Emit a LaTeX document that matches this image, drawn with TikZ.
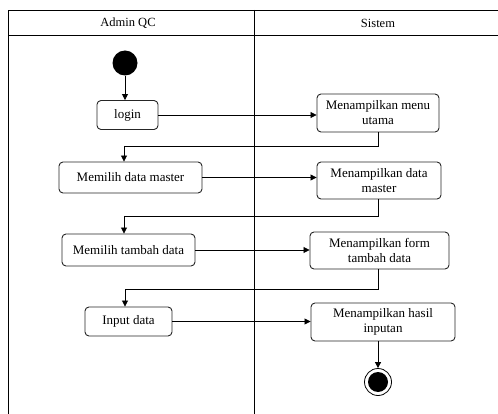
\documentclass[tikz,border=0pt]{standalone}
\usepackage{fontspec}
\setmainfont{Liberation Serif}
\usetikzlibrary{arrows.meta,positioning,calc}

\begin{document}
\begin{tikzpicture}[x=1pt,y=-1pt,
    act/.style={draw=black!85, rounded corners=4pt, line width=0.9pt, align=center,
                font=\fontsize{13}{15}\selectfont, inner sep=2pt},
    flow/.style={-{Triangle[length=6pt,width=6pt]}, line width=0.8pt},
    lane/.style={line width=0.7pt}]
  \useasboundingbox (0,0) rectangle (498,414);

  %% Swimlanes
  \draw[lane] (498,10) -- (8,10) -- (8,414);
  \draw[lane] (8,35) -- (498,35);
  \draw[lane] (254,10) -- (254,414);
  \node[font=\fontsize{12.5}{14}\selectfont] (hAdmin) at (128,23) {Admin QC};
  \node[font=\fontsize{12.5}{14}\selectfont] (hSis)   at (378,23) {Sistem};

  %% Admin QC
  \node[circle, fill=black, minimum size=25pt, inner sep=0pt] (start) at (125,63) {};
  \node[act, minimum width=61pt,  minimum height=29pt] (login)  at (127.5,115) {login};
  \node[act, minimum width=143pt, minimum height=31pt] (master) at (130.5,177.5) {Memilih data master};
  \node[act, minimum width=133pt, minimum height=32pt] (tambah) at (128.5,250) {Memilih tambah data};
  \node[act, minimum width=87pt,  minimum height=29pt] (input)  at (128.5,321.5) {Input data};

  %% Sistem
  \node[act, minimum width=122pt, minimum height=38pt] (menu)   at (378,113) {Menampilkan menu\\utama};
  \node[act, minimum width=124pt, minimum height=37pt] (tmaster) at (379,180.5) {Menampilkan data\\master};
  \node[act, minimum width=139pt, minimum height=37pt] (tform)  at (379.5,250.5) {Menampilkan form\\tambah data};
  \node[act, minimum width=144pt, minimum height=38pt] (thasil) at (383,322) {Menampilkan hasil\\inputan};
  \node[circle, draw=black, line width=0.8pt, minimum size=27pt, inner sep=0pt] (finish) at (378,382) {};
  \node[circle, fill=black, minimum size=20pt, inner sep=0pt] at (finish) {};

  %% bends
  \coordinate (k1) at (124,146);
  \coordinate (k2) at (124,216);
  \coordinate (k3) at (125,289);

  %% Flow
  \draw[flow] (start) -- (start |- login.north);
  \draw[flow] (login) -- (menu.west |- login);
  \draw[lane] (menu.south -| 378,0) |- (k1);
  \draw[flow] (k1) -- (k1 |- master.north);
  \draw[flow] (master) -- (tmaster.west |- master);
  \draw[lane] (tmaster.south -| 378,0) |- (k2);
  \draw[flow] (k2) -- (k2 |- tambah.north);
  \draw[flow] (tambah) -- (tform.west |- tambah);
  \draw[lane] (tform.south -| 378,0) |- (k3);
  \draw[flow] (k3) -- (k3 |- input.north);
  \draw[flow] (input) -- (thasil.west |- input);
  \draw[flow] (thasil.south -| finish) -- (finish.north);
\end{tikzpicture}
\end{document}
